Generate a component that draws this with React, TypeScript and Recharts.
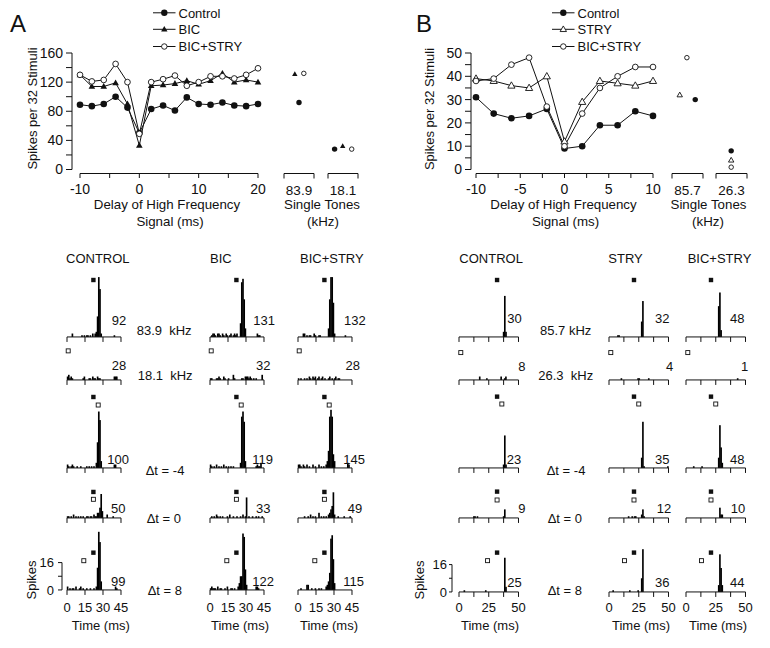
import React from 'react';
import { ComposedChart, LineChart, Line, Bar, Scatter, XAxis, YAxis, ReferenceLine, Legend } from 'recharts';

const FONT = '"Liberation Sans", Arial, Helvetica, sans-serif';
const INK = '#111';

// ================= Panel A: delay functions =================
const delaysA = [-10, -8, -6, -4, -2, 0, 2, 4, 6, 8, 10, 12, 14, 16, 18, 20];
const controlA = [89, 87, 90, 100, 85, 50, 83, 88, 81, 99, 90, 89, 92, 88, 87, 90];
const bicA = [130, 114, 114, 119, 90, 33, 115, 116, 118, 122, 117, 122, 132, 120, 123, 120];
const bicStryA = [130, 121, 123, 145, 120, 49, 120, 124, 129, 115, 120, 128, 128, 125, 130, 139];
const yTicksA = [0, 20, 40, 60, 80, 100, 120, 140, 160];
const xTicksA = [-10, -5, 0, 5, 10, 15, 20];
const xLabelsA = [-10, 0, 10, 20];

const tonesA = ['83.9', '18.1'];
const toneControlA = [92, 28];
const toneBicA = [131, 32];
const toneBicStryA = [132, 28];

// ================= Panel B: delay functions =================
const delaysB = [-10, -8, -6, -4, -2, 0, 2, 4, 6, 8, 10];
const controlB = [31, 24, 22, 23, 26, 9, 10, 19, 19, 25, 23];
const stryB = [39, 38, 36, 35, 40, 12, 29, 38, 37, 36, 38];
const bicStryB = [38, 39, 45, 48, 27, 10, 24, 35, 40, 44, 44];
const yTicksB = [0, 5, 10, 15, 20, 25, 30, 35, 40, 45, 50];
const xTicksB = [-10, -7.5, -5, -2.5, 0, 2.5, 5, 7.5, 10];
const xLabelsB = [-10, -5, 0, 5, 10];

const tonesB = ['85.7', '26.3'];
const toneControlB = [30, 8];
const toneStryB = [32, 4];
const toneBicStryB = [48, 1];

// ================= PSTHs (1 ms bins: [bin start ms, spikes]) =================
// Panel A, rows: 83.9 kHz, 18.1 kHz, dt=-4, dt=0, dt=8 ; cols: CONTROL, BIC, BIC+STRY
const a1c: [number, number][] = [[4,2],[12,1],[14,1],[16,1],[17,1],[19,1],[21,2],[23,2],[24,3],[25,12],[26,35],[27,28],[28,2],[39,1]];
const a1b: [number, number][] = [[1,1],[2,2],[3,2],[4,1],[6,2],[7,2],[8,1],[10,2],[11,1],[13,2],[14,1],[16,1],[17,2],[19,1],[20,2],[21,1],[22,2],[25,8],[26,32],[27,34],[28,22],[29,5],[39,2],[40,1],[41,1]];
const a1s: [number, number][] = [[4,2],[5,2],[7,1],[9,1],[10,1],[13,2],[14,1],[17,1],[18,1],[25,5],[26,22],[27,35],[28,35],[29,20],[30,2],[39,1]];
const a2c: [number, number][] = [[0,2],[1,3],[2,1],[3,2],[4,1],[13,1],[14,2],[18,1],[19,1],[21,2],[22,1],[23,1],[25,2],[26,1],[27,1],[39,2],[40,2],[41,2]];
const a2b: [number, number][] = [[0,1],[1,1],[5,1],[6,1],[7,2],[8,1],[11,2],[12,1],[15,1],[19,3],[20,1],[26,1],[27,1],[29,2],[30,2],[31,2],[32,1],[33,2],[34,1],[36,1],[38,1],[43,3]];
const a2s: [number, number][] = [[0,1],[2,1],[5,1],[7,1],[9,2],[10,1],[12,2],[13,1],[14,2],[16,1],[17,2],[19,1],[20,2],[22,1],[25,1],[26,2],[28,1],[30,1],[31,2],[33,1],[34,1]];
const a3c: [number, number][] = [[0,2],[1,1],[3,1],[4,2],[5,1],[8,1],[11,1],[16,1],[18,1],[20,1],[22,1],[24,3],[25,15],[26,33],[27,28],[28,4],[39,2],[40,2]];
const a3b: [number, number][] = [[0,2],[1,1],[3,1],[5,2],[7,1],[9,1],[11,2],[13,1],[15,1],[17,1],[19,1],[25,3],[26,30],[27,33],[28,27],[29,4],[38,1],[39,2],[40,1],[41,1],[42,3]];
const a3s: [number, number][] = [[0,2],[1,2],[2,1],[4,2],[5,1],[7,2],[9,1],[12,2],[14,1],[17,2],[19,1],[21,1],[23,2],[24,4],[25,10],[26,30],[27,34],[28,30],[29,8],[30,4],[41,3],[42,2]];
const a4c: [number, number][] = [[0,1],[1,1],[3,1],[5,2],[7,1],[9,1],[11,1],[13,1],[16,1],[17,1],[19,1],[20,1],[22,2],[23,1],[24,1],[25,3],[26,3],[27,6],[28,14],[29,4],[33,2],[38,1]];
const a4b: [number, number][] = [[1,1],[3,1],[5,2],[6,1],[8,1],[10,1],[14,1],[16,2],[19,1],[22,1],[25,1],[27,2],[29,1],[30,12],[32,1],[35,1],[38,1],[40,1],[43,1]];
const a4s: [number, number][] = [[5,1],[8,1],[10,2],[12,1],[14,1],[17,3],[19,1],[21,1],[23,1],[25,2],[26,3],[27,5],[28,7],[29,15],[30,2],[33,1],[38,1],[43,1]];
const a5c: [number, number][] = [[0,2],[2,1],[4,1],[5,1],[7,2],[10,1],[11,2],[13,1],[16,1],[19,1],[22,1],[24,2],[25,13],[26,34],[27,28],[28,5],[40,2],[41,1]];
const a5b: [number, number][] = [[0,1],[1,2],[2,1],[3,1],[4,1],[6,2],[8,1],[9,1],[12,1],[14,2],[17,1],[18,1],[20,1],[23,2],[24,4],[25,8],[26,8],[27,33],[28,31],[29,12],[30,3],[38,2],[39,2],[40,1]];
const a5s: [number, number][] = [[2,1],[7,3],[8,3],[11,1],[14,1],[17,1],[19,1],[23,2],[24,3],[25,5],[26,10],[27,30],[28,32],[29,18],[30,4]];

// Panel B, rows: 85.7 kHz, 26.3 kHz, dt=-4, dt=0, dt=8 ; cols: CONTROL, STRY, BIC+STRY
const b1c: [number, number][] = [[37,3],[38,24],[39,3]];
const b1s: [number, number][] = [[7,1],[8,1],[27,9],[28,21]];
const b1b: [number, number][] = [[27,18],[28,26],[29,4]];
const b2c: [number, number][] = [[17,2],[23,1],[35,2],[38,1],[39,2]];
const b2s: [number, number][] = [[10,1],[24,1],[25,1],[33,1]];
const b2b: [number, number][] = [[43,1]];
const b3c: [number, number][] = [[37,2],[38,19],[39,2]];
const b3s: [number, number][] = [[27,6],[28,27],[29,1],[49,1]];
const b3b: [number, number][] = [[6,1],[13,1],[27,6],[28,25],[29,12],[30,3]];
const b4c: [number, number][] = [[12,1],[13,1],[15,1],[37,1],[38,5]];
const b4s: [number, number][] = [[16,1],[19,1],[21,1],[22,1],[27,2],[28,5],[29,1]];
const b4b: [number, number][] = [[28,6],[29,2],[30,2]];
const b5c: [number, number][] = [[4,1],[22,1],[38,20],[39,3]];
const b5s: [number, number][] = [[3,1],[17,1],[24,1],[27,8],[28,25]];
const b5b: [number, number][] = [[27,4],[28,22],[29,14],[30,4]];

const totalsA = [[92, 131, 132], [28, 32, 28], [100, 119, 145], [50, 33, 49], [99, 122, 115]];
const totalsB = [[30, 32, 48], [8, 4, 1], [23, 35, 48], [9, 12, 10], [25, 36, 44]];

// stimulus onset times (ms): high tone (filled square), low tone (open square)
const stimHiA = [22, null, 22, 22, 22];
const stimLoA = [null, 1, 26, 22, 14];
const stimHiBctl = [32, null, 32, 32, 32];
const stimLoBctl = [null, 1.5, 36, 32, 24];
const stimHiBdrug = [21, null, 21, 21, 21];
const stimLoBdrug = [null, 1.5, 25, 21, 13];

const psthTicksA = [0, 15, 30, 45];
const psthLabelsA = [0, 15, 30, 45];
const psthTicksB = [0, 12.5, 25, 37.5, 50];
const psthLabelsB = [0, 25, 50];

const colLabelsA = ['CONTROL', 'BIC', 'BIC+STRY'];
const colLabelsB = ['CONTROL', 'STRY', 'BIC+STRY'];
const rowLabelsA = ['83.9  kHz', '18.1  kHz', 'Δt = -4', 'Δt = 0', 'Δt = 8'];
const rowLabelsB = ['85.7 kHz', '26.3  kHz', 'Δt = -4', 'Δt = 0', 'Δt = 8'];

// ================= layout (positions only) =================
const CH_TOP = 42, CH_MT = 11, CH_H = 157.5, CH_XH = 30, CH_MR = 16;
const PSTH_YMAX = 45, SPK_PX = 1.71, PLOT_H = PSTH_YMAX * SPK_PX;
const rowAxisA = [337, 380, 468, 518, 590];
const rowAxisB = [337, 380, 468, 518, 592];
const colX0A = [66.7, 210, 298.3];
const colX0B = [459.3, 609, 685.7];
const hiLvlA = [33.3, 0, 41.5, 15.2, 21.8];
const loLvlA = [0, 17, 36.8, 10.9, 17.1];
const hiLvlB = [33.3, 0, 41.7, 15.4, 23];
const loLvlB = [0, 16, 37.4, 10.5, 18.3];
const totXA = [[111.7, 253.3, 344], [111.7, 256, 345.5], [107.3, 252.3, 343.3], [111, 256, 347.7], [111, 252.3, 343.3]];
const totYA = [324.5, 370, 463.5, 512.5, 586];
const totXB = [[507.3, 655, 730], [518.3, 666, 741], [506.7, 655, 730], [518.3, 656.7, 730.7], [507.3, 655, 730]];
const totYB = [322.5, 371, 464, 513.3, 587];
const rowLXA = [136.7, 137.7, 145.7, 146.7, 147.7];
const rowLXB = [540, 538.3, 546.7, 547.7, 547.7];
const rowLY = [335, 379.5, 474.5, 523, 595];
const PSTH_LABEL_BASE = 612;

type MarkKind = 'dot' | 'ring' | 'tri' | 'triOpen' | 'sq' | 'sqOpen';

function Mark({ kind, cx, cy, s }: { kind: MarkKind; cx: number; cy: number; s: number }) {
  if (cx == null || cy == null || isNaN(cx) || isNaN(cy)) return <g />;
  switch (kind) {
    case 'dot':
      return <circle cx={cx} cy={cy} r={s} fill={INK} />;
    case 'ring':
      return <circle cx={cx} cy={cy} r={s - 0.45} fill="#fff" stroke={INK} strokeWidth={0.9} />;
    case 'tri':
      return <polygon points={`${cx},${cy - s * 1.05} ${cx - s},${cy + s * 0.7} ${cx + s},${cy + s * 0.7}`} fill={INK} />;
    case 'triOpen':
      return <polygon points={`${cx},${cy - s * 1.05} ${cx - s},${cy + s * 0.7} ${cx + s},${cy + s * 0.7}`} fill="#fff" stroke={INK} strokeWidth={0.9} />;
    case 'sq':
      return <rect x={cx - s} y={cy - s} width={2 * s} height={2 * s} fill={INK} />;
    case 'sqOpen':
      return <rect x={cx - s} y={cy - s} width={2 * s} height={2 * s} fill="#fff" stroke={INK} strokeWidth={0.9} />;
  }
  return <g />;
}

const shifted = (dx: number, dy: number) => (p: any) => (
  <line x1={p.x1 + dx} y1={p.y1 + dy} x2={p.x2 + dx} y2={p.y2 + dy} stroke={INK} strokeWidth={1} />
);

// tick mark hanging below an (optionally offset) axis line, with optional label
const dropTick = (labels: number[] | null, gap: number, len: number, labelDy: number, fs: number) => (p: any) => {
  const { x, y, payload } = p;
  const v = payload.value;
  return (
    <g>
      <line x1={x} x2={x} y1={y + gap} y2={y + gap + len} stroke={INK} strokeWidth={1} />
      {labels && labels.includes(v) && (
        <text x={x} y={y + labelDy} textAnchor="middle" fontSize={fs} fill={INK}>{String(v)}</text>
      )}
    </g>
  );
};

type SeriesDef = { key: string; name: string; kind: MarkKind; values: number[] };

const LEG_ROWS = [8.8, 25.3, 42.5];

function DelayChart(props: {
  left: number; plotRight: number; xs: number[]; series: SeriesDef[]; yMax: number; yTicks: number[];
  yStep: number; xDomain: [number, number]; xTicks: number[]; xLabels: number[]; padL: number;
}) {
  const { left, plotRight, xs, series, yMax, yTicks, yStep, xDomain, xTicks, xLabels, padL } = props;
  const width = plotRight - left + CH_MR;
  const rows = xs.map((d, i) => {
    const r: any = { d };
    series.forEach((s) => { r[s.key] = s.values[i]; });
    return r;
  });
  const legendContent = (lp: any) => {
    const payload: any[] = lp.payload || [];
    return (
      <svg width={112} height={56} style={{ display: 'block', overflow: 'visible' }}>
        {series.map((s, i) => {
          const entry = payload.find((e) => e.dataKey === s.key);
          const cy = LEG_ROWS[i];
          return (
            <g key={s.key}>
              <line x1={1} x2={23.5} y1={cy} y2={cy} stroke={INK} strokeWidth={1} />
              <Mark kind={s.kind} cx={12.3} cy={cy} s={3.2} />
              <text x={26.5} y={cy + 4.7} fontSize={13} fill={INK}>{entry ? entry.value : s.name}</text>
            </g>
          );
        })}
      </svg>
    );
  };
  return (
    <div style={{ position: 'absolute', left, top: CH_TOP, width, height: CH_H }}>
      <LineChart width={width} height={CH_H} data={rows} margin={{ top: CH_MT, right: CH_MR, bottom: 0, left: 0 }}>
        <XAxis type="number" dataKey="d" domain={xDomain} ticks={xTicks} interval={0}
          padding={{ left: padL, right: 0 }} axisLine={false} tickLine={false} tickSize={0} tickMargin={0}
          height={CH_XH} tick={dropTick(xLabels, 4, 4.5, 24.5, 14)} />
        <YAxis type="number" domain={[0, yMax]} ticks={yTicks} interval={0} width={40}
          axisLine={{ stroke: INK }} tickLine={{ stroke: INK }} tickSize={6} tickMargin={3}
          tick={{ fontSize: 14, fill: INK }} tickFormatter={(v: number) => (v % yStep === 0 ? String(v) : '')} />
        <ReferenceLine segment={[{ x: xDomain[0], y: 0 }, { x: xDomain[1], y: 0 }]} shape={shifted(0, 4)} />
        {series.map((s) => (
          <Line key={s.key} dataKey={s.key} name={s.name} stroke={INK} strokeWidth={1} isAnimationActive={false}
            dot={(p: any) => <Mark key={`${s.key}-${p.index}`} kind={s.kind} cx={p.cx} cy={p.cy} s={s.kind === 'triOpen' ? 3.6 : 3.3} />}
            activeDot={false} />
        ))}
        <Legend layout="vertical" align="center" verticalAlign="middle"
          wrapperStyle={{ left: 120, top: -38, width: 112, height: 56 }} content={legendContent} />
      </LineChart>
    </div>
  );
}

function ToneChart(props: { left: number; plotW: number; label: string; yMax: number; points: { x: number; y: number; kind: MarkKind }[] }) {
  const { left, plotW, label, yMax, points } = props;
  const ML = 6, MR = 6;
  const W = ML + plotW + MR;
  return (
    <div style={{ position: 'absolute', left: left - ML, top: CH_TOP, width: W, height: CH_H }}>
      <ComposedChart width={W} height={CH_H} margin={{ top: CH_MT, right: MR, bottom: 0, left: ML }}>
        <XAxis type="number" dataKey="x" domain={[0, 1]} ticks={[0, 0.5, 1]} interval={0} axisLine={false}
          tickLine={false} tickSize={0} tickMargin={0} height={CH_XH}
          tick={(p: any) => {
            const v = p.payload.value;
            if (v === 0.5) return <text x={p.x} y={p.y + 25} textAnchor="middle" fontSize={13.5} fill={INK}>{label}</text>;
            return <line x1={p.x} x2={p.x} y1={p.y + 4} y2={p.y + 9} stroke={INK} strokeWidth={1} />;
          }} />
        <YAxis type="number" domain={[0, yMax]} hide />
        <ReferenceLine segment={[{ x: 0, y: 0 }, { x: 1, y: 0 }]} shape={shifted(0, 4)} />
        {points.map((pt, i) => (
          <Scatter key={i} data={[{ x: pt.x, v: pt.y }]} dataKey="v" isAnimationActive={false}
            shape={(p: any) => <Mark kind={pt.kind} cx={p.cx} cy={p.cy} s={2.7} />} />
        ))}
      </ComposedChart>
    </div>
  );
}

function expandBins(bins: [number, number][], nBins: number) {
  const m = new Map<number, number>(bins.map(([t, n]) => [t, n]));
  return Array.from({ length: nBins }, (_, i) => ({ t: i + 0.5, n: m.get(i) ?? 0 }));
}

function Psth(props: {
  bins: [number, number][]; tMax: number; ticks: number[]; tickLabels: number[]; x0: number; axisY: number; plotW: number;
  hiT: number | null; loT: number | null; hiLvl: number; loLvl: number; showX: boolean;
  yAxis: null | { gap: number; tickSize: number; tickMargin: number };
}) {
  const { bins, tMax, ticks, tickLabels, x0, axisY, plotW, hiT, loT, hiLvl, loLvl, showX, yAxis } = props;
  const padL = yAxis ? yAxis.gap : 0;
  const yW = yAxis ? 30 : 0;
  const ML = yAxis ? 0 : 10;
  const MT = 4, MR = 12;
  const xH = showX ? 28 : 9;
  const width = ML + yW + padL + plotW + MR;
  const height = MT + PLOT_H + xH;
  const left = x0 - padL - yW - ML;
  const top = axisY - PLOT_H - MT;
  const data = expandBins(bins, tMax);
  const binW = plotW / tMax + 0.45;
  const hiData = hiT != null ? [{ t: hiT, y: hiLvl }] : [];
  const loData = loT != null ? [{ t: loT, y: loLvl }] : [];
  return (
    <div style={{ position: 'absolute', left, top, width, height }}>
      <ComposedChart width={width} height={height} data={data} margin={{ top: MT, right: MR, bottom: 0, left: ML }}
        barCategoryGap={0} barGap={0}>
        <XAxis type="number" dataKey="t" domain={[0, tMax]} ticks={ticks} interval={0} padding={{ left: padL, right: 0 }}
          axisLine={false} tickLine={false} tickSize={0} tickMargin={0} height={xH}
          tick={dropTick(showX ? tickLabels : null, 0, 5, PSTH_LABEL_BASE - axisY, 13)} />
        <YAxis type="number" domain={[0, PSTH_YMAX]} hide={!yAxis} width={yW || 30} ticks={[0, 8, 16]} interval={0}
          axisLine={false} tickLine={{ stroke: INK }} tickSize={yAxis ? yAxis.tickSize : 3}
          tickMargin={yAxis ? yAxis.tickMargin : 2} tick={{ fontSize: 13, fill: INK }}
          tickFormatter={(v: number) => (v === 8 ? '' : String(v))} />
        <ReferenceLine segment={[{ x: 0, y: 0 }, { x: tMax, y: 0 }]} stroke={INK} strokeWidth={1} />
        {yAxis && <ReferenceLine segment={[{ x: 0, y: 0 }, { x: 0, y: 16 }]} shape={shifted(-padL, 0)} />}
        <Bar dataKey="n" isAnimationActive={false}
          shape={(p: any) => {
            if (!p.height || p.height <= 0) return <g />;
            const c = p.x + p.width / 2;
            return <rect x={c - binW / 2} y={p.y} width={binW} height={p.height} fill="#000" />;
          }} />
        <Scatter data={hiData} dataKey="y" isAnimationActive={false}
          shape={(p: any) => <Mark kind="sq" cx={p.cx} cy={p.cy} s={2.2} />} />
        <Scatter data={loData} dataKey="y" isAnimationActive={false}
          shape={(p: any) => <Mark kind="sqOpen" cx={p.cx} cy={p.cy} s={2.0} />} />
      </ComposedChart>
    </div>
  );
}

const psthA = [[a1c, a1b, a1s], [a2c, a2b, a2s], [a3c, a3b, a3s], [a4c, a4b, a4s], [a5c, a5b, a5s]];
const psthB = [[b1c, b1s, b1b], [b2c, b2s, b2b], [b3c, b3s, b3b], [b4c, b4s, b4b], [b5c, b5s, b5b]];

function T({ x, y, children, fs = 13, anchor = 'start', rot = false }: any) {
  return (
    <text x={rot ? 0 : x} y={rot ? 0 : y} fontSize={fs} textAnchor={anchor} fill={INK}
      transform={rot ? `translate(${x},${y}) rotate(-90)` : undefined} style={{ whiteSpace: 'pre' }}>
      {children}
    </text>
  );
}

export default function App() {
  const seriesA: SeriesDef[] = [
    { key: 'ctl', name: 'Control', kind: 'dot', values: controlA },
    { key: 'bic', name: 'BIC', kind: 'tri', values: bicA },
    { key: 'bs', name: 'BIC+STRY', kind: 'ring', values: bicStryA },
  ];
  const seriesB: SeriesDef[] = [
    { key: 'ctl', name: 'Control', kind: 'dot', values: controlB },
    { key: 'stry', name: 'STRY', kind: 'triOpen', values: stryB },
    { key: 'bs', name: 'BIC+STRY', kind: 'ring', values: bicStryB },
  ];
  const psths: React.ReactNode[] = [];
  for (let r = 0; r < 5; r++) {
    for (let c = 0; c < 3; c++) {
      psths.push(
        <Psth key={`A${r}${c}`} bins={psthA[r][c]} tMax={45} ticks={psthTicksA} tickLabels={psthLabelsA} x0={colX0A[c]}
          axisY={rowAxisA[r]} plotW={54} hiT={stimHiA[r]} loT={stimLoA[r]} hiLvl={hiLvlA[r]} loLvl={loLvlA[r]}
          showX={r === 4} yAxis={r === 4 && c === 0 ? { gap: 5, tickSize: 4, tickMargin: 4 } : null} />
      );
      psths.push(
        <Psth key={`B${r}${c}`} bins={psthB[r][c]} tMax={50} ticks={psthTicksB} tickLabels={psthLabelsB} x0={colX0B[c]}
          axisY={rowAxisB[r]} plotW={59.5}
          hiT={c === 0 ? stimHiBctl[r] : stimHiBdrug[r]} loT={c === 0 ? stimLoBctl[r] : stimLoBdrug[r]}
          hiLvl={hiLvlB[r]} loLvl={loLvlB[r]}
          showX={r === 4} yAxis={r === 4 && c === 0 ? { gap: 7, tickSize: 3, tickMargin: 2 } : null} />
      );
    }
  }
  return (
    <div style={{ position: 'absolute', left: 0, top: 0, width: 770, height: 648, background: '#fff', fontFamily: FONT, overflow: 'hidden' }}>
      <DelayChart left={32} plotRight={258} xs={delaysA} series={seriesA} yMax={160} yTicks={yTicksA} yStep={40}
        xDomain={[-10, 20]} xTicks={xTicksA} xLabels={xLabelsA} padL={8} />
      <ToneChart left={284} plotW={30} label={tonesA[0]} yMax={160} points={[
        { x: 0.36, y: toneBicA[0], kind: 'tri' }, { x: 0.5, y: toneControlA[0], kind: 'dot' }, { x: 0.66, y: toneBicStryA[0], kind: 'ring' }]} />
      <ToneChart left={328.3} plotW={30} label={tonesA[1]} yMax={160} points={[
        { x: 0.22, y: toneControlA[1], kind: 'dot' }, { x: 0.49, y: toneBicA[1], kind: 'tri' }, { x: 0.79, y: toneBicStryA[1], kind: 'ring' }]} />

      <DelayChart left={431} plotRight={653} xs={delaysB} series={seriesB} yMax={50} yTicks={yTicksB} yStep={10}
        xDomain={[-10, 10]} xTicks={xTicksB} xLabels={xLabelsB} padL={5} />
      <ToneChart left={671.7} plotW={31} label={tonesB[0]} yMax={50} points={[
        { x: 0.25, y: toneStryB[0], kind: 'triOpen' }, { x: 0.48, y: toneBicStryB[0], kind: 'ring' }, { x: 0.75, y: toneControlB[0], kind: 'dot' }]} />
      <ToneChart left={716} plotW={31} label={tonesB[1]} yMax={50} points={[
        { x: 0.49, y: toneControlB[1], kind: 'dot' }, { x: 0.49, y: toneStryB[1], kind: 'triOpen' }, { x: 0.49, y: toneBicStryB[1], kind: 'ring' }]} />

      {psths}

      <svg width={770} height={648} style={{ position: 'absolute', left: 0, top: 0, pointerEvents: 'none' }}>
        <T x={10} y={32} fs={24}>A</T>
        <T x={416} y={32} fs={24}>B</T>
        <T x={37} y={108.5} anchor="middle" rot>Spikes per 32 Stimuli</T>
        <T x={433.5} y={109} anchor="middle" rot>Spikes per 32 Stimuli</T>
        <T x={167} y={208.5} fs={13.3} anchor="middle">Delay of High Frequency</T>
        <T x={170} y={225.5} fs={13.3} anchor="middle">Signal (ms)</T>
        <T x={563.5} y={208.5} fs={13.3} anchor="middle">Delay of High Frequency</T>
        <T x={565.5} y={225.5} fs={13.3} anchor="middle">Signal (ms)</T>
        <T x={322} y={208.5} fs={13.3} anchor="middle">Single Tones</T>
        <T x={323} y={225.5} fs={13.3} anchor="middle">(kHz)</T>
        <T x={708.5} y={208.5} fs={13.3} anchor="middle">Single Tones</T>
        <T x={708} y={225.5} fs={13.3} anchor="middle">(kHz)</T>

        {colLabelsA.map((s, i) => <T key={`ca${i}`} x={[66, 210, 300][i]} y={263}>{s}</T>)}
        {colLabelsB.map((s, i) => <T key={`cb${i}`} x={[459.3, 608.3, 687.7][i]} y={263}>{s}</T>)}
        {rowLabelsA.map((s, i) => <T key={`ra${i}`} x={rowLXA[i]} y={rowLY[i]}>{s}</T>)}
        {rowLabelsB.map((s, i) => <T key={`rb${i}`} x={rowLXB[i]} y={rowLY[i]}>{s}</T>)}
        {totalsA.map((row, r) => row.map((v, c) => <T key={`ta${r}${c}`} x={totXA[r][c]} y={totYA[r]}>{v}</T>))}
        {totalsB.map((row, r) => row.map((v, c) => <T key={`tb${r}${c}`} x={totXB[r][c]} y={totYB[r]}>{v}</T>))}
        {[100.8, 240, 329, 490, 641, 718].map((cx, i) => <T key={`tm${i}`} x={cx} y={630} anchor="middle">Time (ms)</T>)}
        <T x={35.5} y={580} anchor="middle" rot>Spikes</T>
        <T x={424} y={580} anchor="middle" rot>Spikes</T>
      </svg>
    </div>
  );
}
